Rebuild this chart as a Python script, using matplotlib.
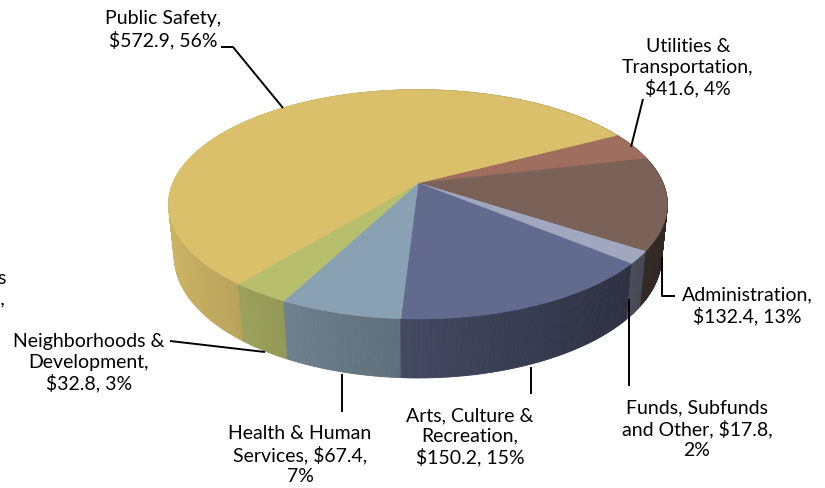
import textwrap
import numpy as np
import matplotlib.pyplot as plt
from matplotlib.colors import to_rgb
from matplotlib.patches import Polygon

# budget by service area, $ millions (clockwise from the top right)
names = ["Utilities & Transportation", "Administration", "Funds, Subfunds and Other",
         "Arts, Culture & Recreation", "Health & Human Services",
         "Neighborhoods & Development", "Public Safety"]
values = [41.6, 132.4, 17.8, 150.2, 67.4, 32.8, 572.9]
colors = ["#a06e5f", "#7a6259", "#a2a7c0", "#626a8e", "#8aa1b3", "#b8bf6c", "#dbc06b"]

# label layout: wrap width, text centre, leader path (pixels)
wrap = [15, 15, 18, 15, 16, 15, 14]
text_xy = [(688, 68), (747, 306), (697, 429), (470, 437), (300, 455), (89, 363), (163, 30)]
leaders = [
    [(643, 100), (631, 148)],
    [(675, 297), (662, 297), (662, 258)],
    [(629, 387), (629, 300)],
    [(531, 395), (531, 368)],
    [(342, 413), (342, 375)],
    [(170, 342), (265, 353)],
    [(221, 48), (233, 48), (283, 109)],
]

elev = np.radians(26.85)
dist = 5.38 * np.cos(elev)
cx, cy, scale = 418, 184, 245
thick = 0.24
start = np.radians(28.0)


def project(t, z=0.0):
    x, y = np.cos(t), np.sin(t)
    v = y * np.sin(elev) + z * np.cos(elev)
    w = -y * np.cos(elev) + z * np.sin(elev)
    f = dist / (dist - w)
    return cx + scale * x * f, cy - scale * v * f, w


plt.rcParams['font.family'] = ['Lato', 'DejaVu Sans']
fig = plt.figure(figsize=(8.25, 4.89), dpi=100)
ax = fig.add_axes([0, 0, 1, 1])
ax.set_xlim(0, 825)
ax.set_ylim(489, 0)
ax.axis('off')

total = sum(values)
fracs = np.array(values) / total
edges = start - 2 * np.pi * np.concatenate([[0], np.cumsum(fracs)])

# side wall, in thin strips painted back to front
strips = []
for i in range(len(values)):
    n = max(int(abs(edges[i] - edges[i + 1]) / np.radians(0.5)), 2)
    ts = np.linspace(edges[i], edges[i + 1], n + 1)
    for a, b in zip(ts[:-1], ts[1:]):
        tt = np.array([a, b])
        xt, yt, wt = project(tt, 0)
        xb, yb, wb = project(tt[::-1], -thick)
        shade = 0.667 + 0.284 * np.cos((a + b) / 2 - np.pi)
        pts = np.column_stack([np.r_[xt, xb], np.r_[yt, yb]])
        strips.append((wt.mean(), pts, shade, i))
strips.sort(key=lambda s: s[0])
for _, pts, shade, i in strips:
    c = np.clip(np.array(to_rgb(colors[i])) * shade, 0, 1)
    ax.add_patch(Polygon(pts, closed=True, fc=c, ec=c, lw=0.6, zorder=1))

# top face
for i in range(len(values)):
    ts = np.linspace(edges[i], edges[i + 1], 200)
    xt, yt, _ = project(ts, 0)
    pts = np.column_stack([np.r_[cx, xt], np.r_[cy, yt]])
    ax.add_patch(Polygon(pts, closed=True, fc=colors[i], ec=colors[i], lw=0.5, zorder=2))

# data labels
for i in range(len(values)):
    pct = round(values[i] / total * 100)
    label = textwrap.fill(f"{names[i]}, ${values[i]:.1f}, {pct}%", wrap[i])
    ax.text(*text_xy[i], label, ha='center', va='center', ma='center',
            fontsize=14, linespacing=1.22, color='#000000', zorder=4)
    lx, ly = zip(*leaders[i])
    ax.plot(lx, ly, color='black', lw=1.4, zorder=3, solid_capstyle='butt')

# clipped label at the left edge
ax.text(6, 289, "s\n5,", ha='right', va='center', fontsize=14, linespacing=1.22)

fig.savefig('out.png', dpi=100)
